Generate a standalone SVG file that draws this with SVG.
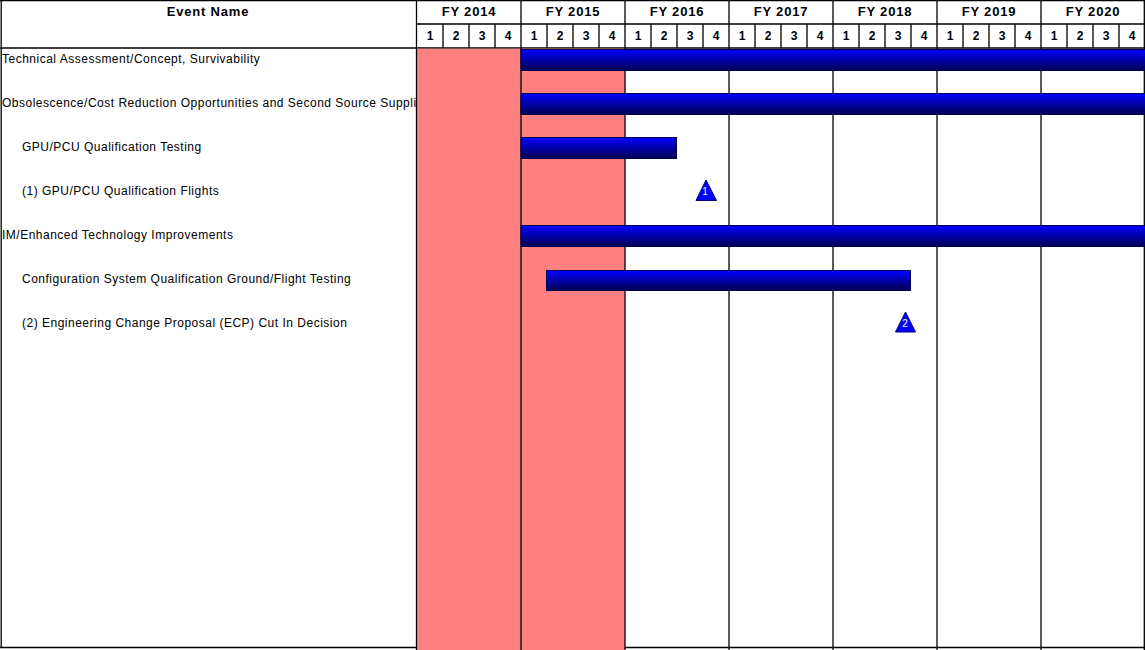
<svg xmlns="http://www.w3.org/2000/svg" width="1145" height="650" viewBox="0 0 1145 650">
<style>
.ln{stroke:#000;stroke-width:1.3;fill:none}
.hd{font-family:"Liberation Sans",Arial,sans-serif;font-weight:bold;font-size:13px;letter-spacing:0.8px;text-anchor:middle;fill:#000}
.q{font-family:"Liberation Sans",Arial,sans-serif;font-weight:bold;font-size:12px;text-anchor:middle;fill:#000}
.ev{font-family:"Liberation Sans",Arial,sans-serif;font-size:12px;letter-spacing:0.5px;fill:#000}
.bar{fill:url(#bg);stroke:#000050;stroke-width:1}
.ms{fill:#0000ff;stroke:#000080;stroke-width:1}
.ml{font-family:"Liberation Sans",Arial,sans-serif;font-size:10px;fill:#fff;text-anchor:middle}
</style>
<defs>
<linearGradient id="bg" x1="0" y1="0" x2="0" y2="1">
<stop offset="0" stop-color="#0000ff"/>
<stop offset="1" stop-color="#000050"/>
</linearGradient>
<clipPath id="lc"><rect x="0" y="48" width="416" height="602"/></clipPath>
</defs>
<rect width="1145" height="650" fill="#fff"/>
<g id="grid">
<line class="ln" x1="0" y1="0.7" x2="1145" y2="0.7"/>
<line class="ln" x1="1.2" y1="0" x2="1.2" y2="648"/>
<line class="ln" x1="0" y1="647.5" x2="1145" y2="647.5"/>
<line class="ln" x1="0" y1="48" x2="1145" y2="48"/>
<line class="ln" x1="417" y1="24" x2="1145" y2="24"/>
<path class="ln" d="M443,24V48M469,24V48M495,24V48M547,24V48M573,24V48M599,24V48M651,24V48M677,24V48M703,24V48M755,24V48M781,24V48M807,24V48M859,24V48M885,24V48M911,24V48M963,24V48M989,24V48M1015,24V48M1067,24V48M1093,24V48M1119,24V48"/>
</g>
<g id="shade">
<rect x="417" y="48.7" width="208" height="602" fill="#ff8080"/>
</g>
<g id="years">
<line class="ln" x1="416.5" y1="0" x2="416.5" y2="650"/>
<line class="ln" x1="521" y1="0" x2="521" y2="650"/>
<line class="ln" x1="625" y1="0" x2="625" y2="650"/>
<line class="ln" x1="729" y1="0" x2="729" y2="650"/>
<line class="ln" x1="833" y1="0" x2="833" y2="650"/>
<line class="ln" x1="937" y1="0" x2="937" y2="650"/>
<line class="ln" x1="1041" y1="0" x2="1041" y2="650"/>
<line class="ln" x1="1144.3" y1="0" x2="1144.3" y2="650"/>
</g>
<g id="header">
<text class="hd" x="208" y="16">Event Name</text>
<text class="hd" x="469" y="16">FY 2014</text>
<text class="hd" x="573" y="16">FY 2015</text>
<text class="hd" x="677" y="16">FY 2016</text>
<text class="hd" x="781" y="16">FY 2017</text>
<text class="hd" x="885" y="16">FY 2018</text>
<text class="hd" x="989" y="16">FY 2019</text>
<text class="hd" x="1093" y="16">FY 2020</text>
<text class="q" x="430" y="40">1</text><text class="q" x="456" y="40">2</text><text class="q" x="482" y="40">3</text><text class="q" x="508" y="40">4</text>
<text class="q" x="534" y="40">1</text><text class="q" x="560" y="40">2</text><text class="q" x="586" y="40">3</text><text class="q" x="612" y="40">4</text>
<text class="q" x="638" y="40">1</text><text class="q" x="664" y="40">2</text><text class="q" x="690" y="40">3</text><text class="q" x="716" y="40">4</text>
<text class="q" x="742" y="40">1</text><text class="q" x="768" y="40">2</text><text class="q" x="794" y="40">3</text><text class="q" x="820" y="40">4</text>
<text class="q" x="846" y="40">1</text><text class="q" x="872" y="40">2</text><text class="q" x="898" y="40">3</text><text class="q" x="924" y="40">4</text>
<text class="q" x="950" y="40">1</text><text class="q" x="976" y="40">2</text><text class="q" x="1002" y="40">3</text><text class="q" x="1028" y="40">4</text>
<text class="q" x="1054" y="40">1</text><text class="q" x="1080" y="40">2</text><text class="q" x="1106" y="40">3</text><text class="q" x="1132" y="40">4</text>
</g>
<g id="labels" clip-path="url(#lc)">
<text class="ev" x="2" y="63">Technical Assessment/Concept, Survivability</text>
<text class="ev" x="2" y="107">Obsolescence/Cost Reduction Opportunities and Second Source Suppliers</text>
<text class="ev" x="22" y="151">GPU/PCU Qualification Testing</text>
<text class="ev" x="22" y="195">(1) GPU/PCU Qualification Flights</text>
<text class="ev" x="2" y="239">IM/Enhanced Technology Improvements</text>
<text class="ev" x="22" y="283">Configuration System Qualification Ground/Flight Testing</text>
<text class="ev" x="22" y="327">(2) Engineering Change Proposal (ECP) Cut In Decision</text>
</g>
<g id="task1"><rect class="bar" x="521" y="49.5" width="625" height="21"/></g>
<g id="task2"><rect class="bar" x="521" y="93.5" width="625" height="21"/></g>
<g id="task3"><rect class="bar" x="521" y="137.5" width="155.5" height="21"/></g>
<g id="milestone1"><polygon class="ms" points="706,180 696,200.5 716.5,200.5"/><text class="ml" x="705" y="195">1</text></g>
<g id="task5"><rect class="bar" x="521" y="225.5" width="625" height="21"/></g>
<g id="task6"><rect class="bar" x="546.5" y="270.5" width="364" height="20"/></g>
<g id="milestone2"><polygon class="ms" points="905.5,312 895.5,332 915.5,332"/><text class="ml" x="905" y="327">2</text></g>
</svg>
